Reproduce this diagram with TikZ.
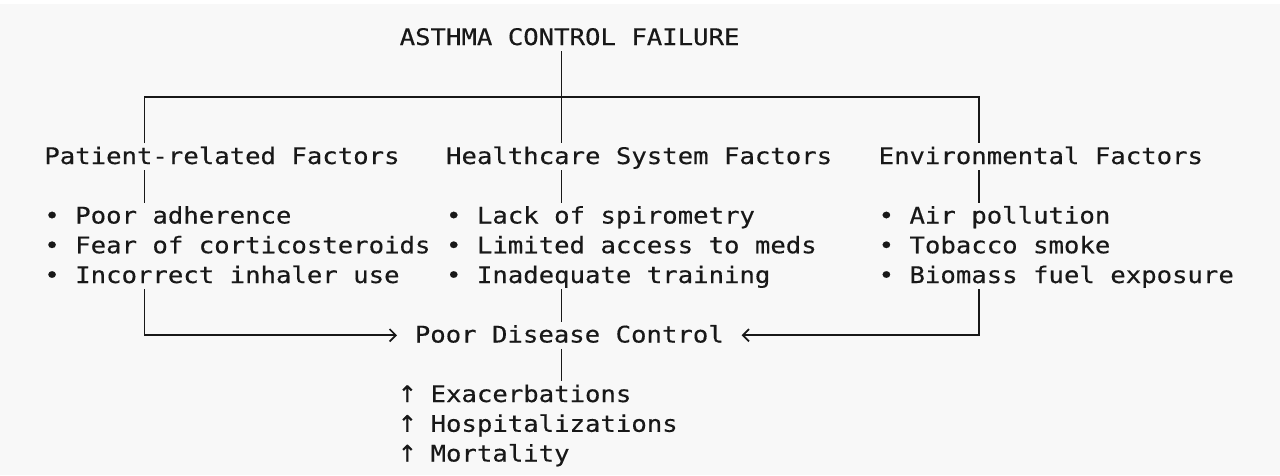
\documentclass[tikz,border=0pt]{standalone}
\usepackage{fontspec}
\usepackage{tikz}
\usetikzlibrary{arrows.meta, calc}
\newfontfamily\diagmono[FakeStretch=1.123, FakeBold=0.35]{DejaVu Sans Mono}
\newfontfamily\diagsym[FakeBold=0.35]{DejaVu Sans}
\newcommand{\upmark}{\makebox[8.79pt][c]{\diagsym ↑}}
\definecolor{AsthmaInk}{RGB}{24, 24, 24}
\definecolor{AsthmaPaper}{RGB}{248, 248, 248}

\begin{document}
\begin{tikzpicture}[x=0.309cm, y=-0.595cm,
    every node/.style={font=\diagmono\fontsize{13pt}{15pt}\selectfont, text=AsthmaInk,
        inner sep=0pt, text height=0.41cm, text depth=0.12cm, anchor=base west},
    wire/.style={draw=AsthmaInk, line width=1pt},
    tip/.style={wire, -{Straight Barb[length=3.5pt, width=7pt]}}]
    \useasboundingbox (-2.848,-1.513) rectangle (80,14.454);
    \fill[white] (-2.848,-1.513) rectangle (80,14.454);
    \fill[AsthmaPaper] (-2.848,-1.378) rectangle (80,14.454);

    \node (title) at (23,0) {ASTHMA CONTROL FAILURE};
    \node (patient) at (0,4) {Patient-related Factors};
    \node (health) at (26,4) {Healthcare System Factors};
    \node (env) at (54,4) {Environmental Factors};

    \node (p1) at (0,6) {• Poor adherence};
    \node (p2) at (0,7) {• Fear of corticosteroids};
    \node (p3) at (0,8) {• Incorrect inhaler use};
    \node (h1) at (26,6) {• Lack of spirometry};
    \node (h2) at (26,7) {• Limited access to meds};
    \node (h3) at (26,8) {• Inadequate training};
    \node (e1) at (54,6) {• Air pollution};
    \node (e2) at (54,7) {• Tobacco smoke};
    \node (e3) at (54,8) {• Biomass fuel exposure};

    \node[anchor=base, inner xsep=0.35cm] (poor) at (34,10) {Poor Disease Control};
    \node (o1) at (23,12) {\upmark{} Exacerbations};
    \node (o2) at (23,13) {\upmark{} Hospitalizations};
    \node (o3) at (23,14) {\upmark{} Mortality};

    % branch rail
    \coordinate (hub) at (33.5,1.75);
    \coordinate (lrail) at (6.5,1.75);
    \coordinate (rrail) at (60.5,1.75);
    \draw[wire] (title.south -| hub) -- (health.north -| hub);
    \draw[wire] (patient.north -| lrail) -- (lrail) -- (rrail) -- (env.north -| rrail);

    \draw[wire] (patient.south -| lrail) -- (p1.north -| lrail);
    \draw[wire] (health.south -| hub) -- (h1.north -| hub);
    \draw[wire] (env.south -| rrail) -- (e1.north -| rrail);

    % into poor control
    \draw[tip] (p3.south -| lrail) |- (poor.west);
    \draw[tip] (e3.south -| rrail) |- (poor.east);
    \draw[wire] (h3.south -| hub) -- (poor.north -| hub);
    \draw[wire] (poor.south -| hub) -- (o1.north -| hub);
\end{tikzpicture}
\end{document}
